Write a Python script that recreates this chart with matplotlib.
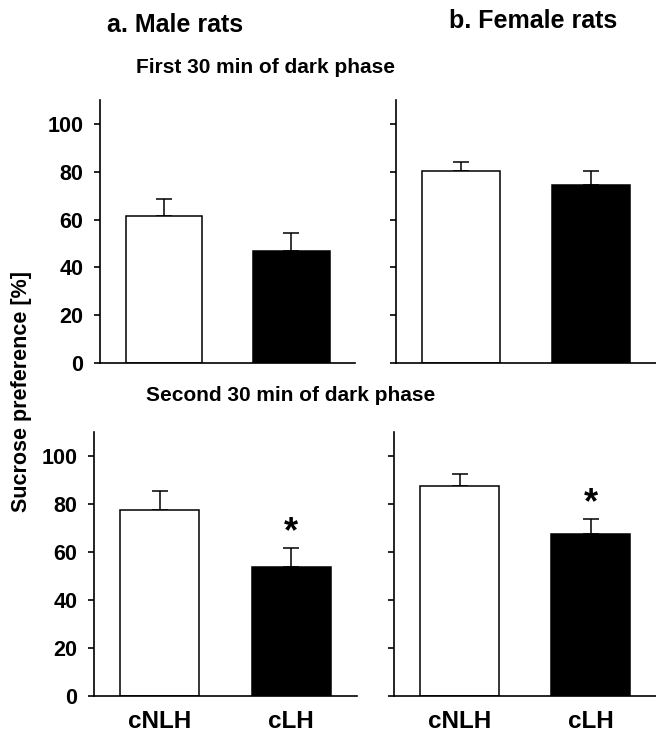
#!/usr/bin/env python3
# -*- coding: utf-8 -*-

"""
Sucrose preference of cNLH and cLH rats, first and second 30 min of dark phase.
"""

import matplotlib
matplotlib.use("Agg")
import matplotlib.pyplot as plt

plt.rcParams['font.family'] = ['Liberation Sans', 'DejaVu Sans']
plt.rcParams['font.weight'] = 'bold'

# DATA ########################################################################

groups = ["cNLH", "cLH"]
y_ticks = [0, 20, 40, 60, 80, 100]

male_first_mean = [61.5, 46.9]
male_first_err = [7.1, 7.5]
female_first_mean = [80.5, 74.6]
female_first_err = [3.6, 5.9]

male_second_mean = [77.7, 53.7]
male_second_err = [7.7, 8.1]
female_second_mean = [87.4, 67.5]
female_second_err = [5.3, 6.2]

# significance marks (index of group marked with *)
male_second_sig = [1]
female_second_sig = [1]

BAR_COLORS = ["white", "black"]
W, H = 656, 734


def fig_pos(x0, x1, y_top, y_zero):
    """Axes rectangle from pixel coordinates."""
    return [x0 / W, (H - y_zero) / H, (x1 - x0) / W, (y_zero - y_top) / H]


def draw_panel(ax, means, errs, show_labels, show_xticks, sig=()):
    x = list(range(len(groups)))
    ax.bar(x, means, width=0.6, color=BAR_COLORS, edgecolor="black",
           linewidth=1.1, zorder=2)
    ax.errorbar(x, means, yerr=[[0] * len(errs), errs], fmt="none",
                ecolor="black", elinewidth=1.1, capsize=5.5, capthick=1.1,
                zorder=1)
    for i in sig:
        ax.text(x[i], means[i] + errs[i] + 2.5, "*", ha="center",
                va="baseline", fontsize=26, fontweight="bold")

    ax.set_xlim(-0.5, 1.5)
    ax.set_ylim(0, 110)
    ax.set_yticks(y_ticks)
    for side in ["top", "right"]:
        ax.spines[side].set_visible(False)
    for side in ["left", "bottom"]:
        ax.spines[side].set_linewidth(1.2)

    ax.tick_params(axis="y", direction="out", length=4, width=1.2, pad=8,
                   labelsize=15.5, labelleft=show_labels)
    ax.set_xticks(x)
    ax.tick_params(axis="x", length=0, pad=10, labelsize=17.5,
                   labelbottom=show_xticks)
    ax.set_xticklabels(groups, fontweight="bold")
    for lab in ax.get_yticklabels():
        lab.set_fontweight("bold")


# PLOT ########################################################################

fig = plt.figure(figsize=(W / 100, H / 100), dpi=100)

ax_tl = fig.add_axes(fig_pos(100, 355, 100, 363))
ax_tr = fig.add_axes(fig_pos(396, 656, 100, 363))
ax_bl = fig.add_axes(fig_pos(94, 357, 432, 696))
ax_br = fig.add_axes(fig_pos(394, 656, 432, 696))

draw_panel(ax_tl, male_first_mean, male_first_err, True, False)
draw_panel(ax_tr, female_first_mean, female_first_err, False, False)
draw_panel(ax_bl, male_second_mean, male_second_err, True, True,
           male_second_sig)
draw_panel(ax_br, female_second_mean, female_second_err, False, True,
           female_second_sig)

# Texts ########

fig.text(175.5 / W, 1 - 32 / H, "a. Male rats", ha="center", va="baseline",
         fontsize=18, fontweight="bold")
fig.text(533 / W, 1 - 28 / H, "b. Female rats", ha="center", va="baseline",
         fontsize=18, fontweight="bold")
fig.text(265 / W, 1 - 73 / H, "First 30 min of dark phase", ha="center",
         va="baseline", fontsize=15, fontweight="bold")
fig.text(291 / W, 1 - 401 / H, "Second 30 min of dark phase", ha="center",
         va="baseline", fontsize=15, fontweight="bold")
fig.text(22 / W, 1 - 391 / H, "Sucrose preference [%]", ha="center",
         va="center", rotation=90, fontsize=15.5, fontweight="bold")

plt.savefig("out.png", dpi=100)
